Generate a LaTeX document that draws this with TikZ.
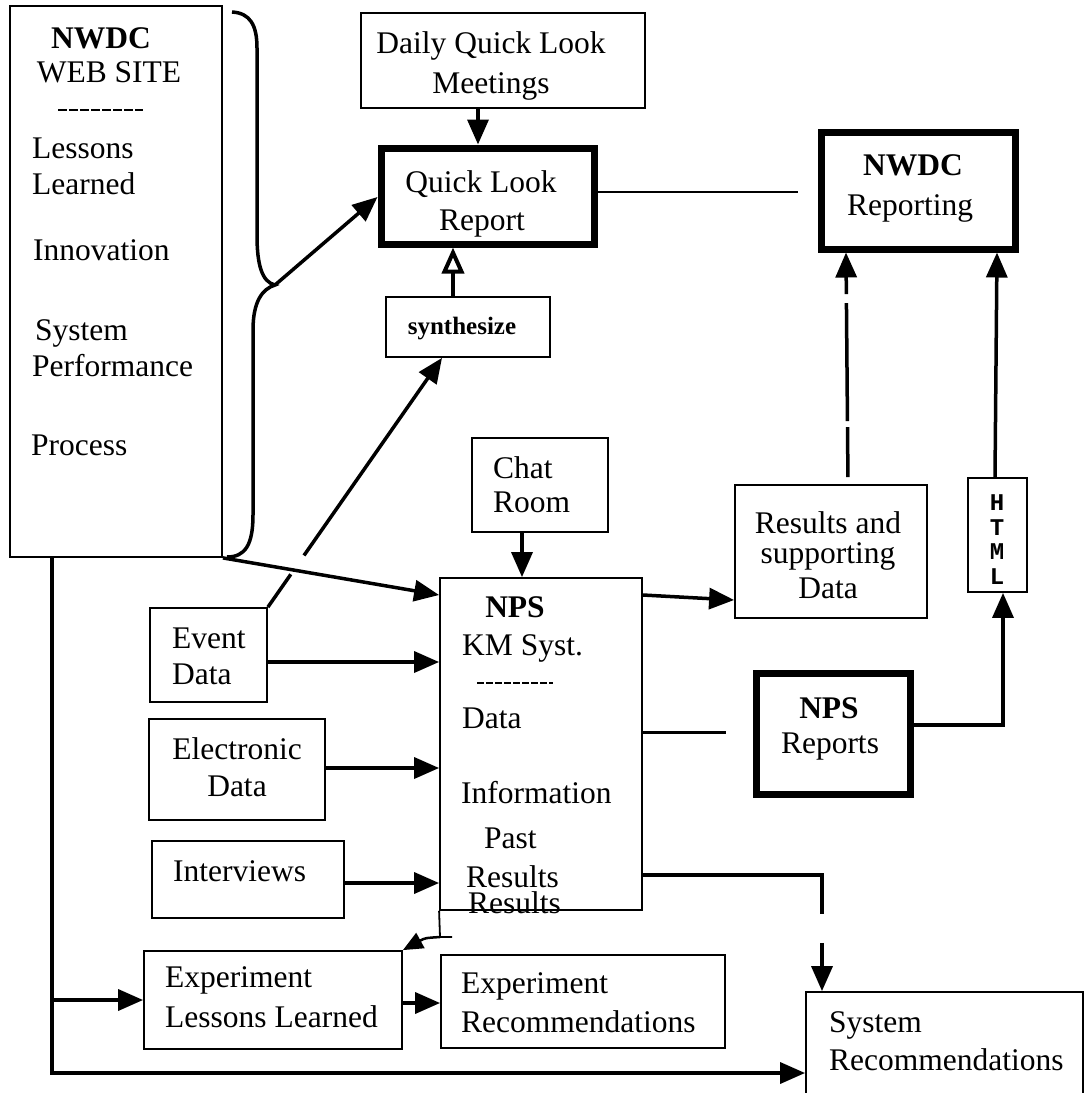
\documentclass[tikz,border=0pt]{standalone}
\usepackage{fontspec}
\setmainfont{Liberation Serif}
\newfontfamily\htmlfont{Liberation Mono}
\usetikzlibrary{arrows.meta,fit,calc}
\begin{document}
\begin{tikzpicture}[x=1pt,y=-1pt,
  box/.style={draw, line width=1.8pt, inner sep=0pt},
  tbox/.style={draw, line width=7pt, inner sep=0pt},
  txt/.style={inner sep=0pt, font=\fontsize{31.5}{37}\selectfont},
  arr/.style={line width=3.5pt, -{Triangle[length=25pt,width=21pt]}},
  ln/.style={line width=3pt},
]
\clip (0,0) rectangle (1087,1093);
\fill[white] (0,0) rectangle (1087,1093);

% boxes
\node[box,  fit={(10,6)(222,557)}]     (web) {};
\node[box,  fit={(361,13)(645,108)}]   (daily) {};
\node[tbox, fit={(381,148)(594,244)}]  (qlr) {};
\node[tbox, fit={(821,132)(1015,249)}] (nwdcr) {};
\node[box,  fit={(386,297)(550,357)}]  (syn) {};
\node[box,  fit={(472,438)(608,532)}]  (chat) {};
\node[box,  fit={(440,578)(642,910)}]  (nps) {};
\node[box,  fit={(735,485)(927,618)}]  (results) {};
\node[box,  fit={(968,478)(1027,592)}] (html) {};
\node[tbox, fit={(756,673)(910,794)}]  (npsr) {};
\node[box,  fit={(150,608)(267,702)}]  (event) {};
\node[box,  fit={(149,719)(325,820)}]  (elec) {};
\node[box,  fit={(152,841)(344,918)}]  (interv) {};
\node[box,  fit={(144,951)(402,1049)}] (ell) {};
\node[box,  fit={(441,955)(725,1048)}] (er) {};
\node[box,  fit={(806,992)(1083,1100)}] (sysrec) {};

% texts: NWDC web site
\node[txt, anchor=base, font=\fontsize{31.5}{37}\selectfont\bfseries] (w1) at (101,48) {NWDC};
\node[txt, anchor=base] (w2) at (109,82) {WEB SITE};
\coordinate (wd1) at (58,110);
\coordinate (wd2) at (143,110);
\draw[line width=2.5pt, dash pattern=on 9pt off 2pt] (wd1) -- (wd2);
\node[txt, anchor=base west] (w3) at (32,158) {Lessons};
\node[txt, anchor=base west] (w4) at (32,194) {Learned};
\node[txt, anchor=base west] (w5) at (33,260) {Innovation};
\node[txt, anchor=base west] (w6) at (35,340) {System};
\node[txt, anchor=base west] (w7) at (32,376) {Performance};
\node[txt, anchor=base west] (w8) at (31,455) {Process};

% daily
\node[txt, anchor=base] (d1) at (491,53) {Daily Quick Look};
\node[txt, anchor=base] (d2) at (491,93) {Meetings};
% quick look report
\node[txt, anchor=base] (q1) at (481,192) {Quick Look};
\node[txt, anchor=base] (q2) at (482,230) {Report};
% NWDC reporting
\node[txt, anchor=base, font=\fontsize{31.5}{37}\selectfont\bfseries] (r1) at (913,175) {NWDC};
\node[txt, anchor=base] (r2) at (910,215) {Reporting};
% synthesize
\node[txt, anchor=base, font=\fontsize{25}{30}\selectfont\bfseries] (s1) at (462,334) {synthesize};
% chat room
\node[txt, anchor=base west] (c1) at (493,478) {Chat};
\node[txt, anchor=base west] (c2) at (493,512) {Room};
% NPS KM
\node[txt, anchor=base, font=\fontsize{31.5}{37}\selectfont\bfseries] (n1) at (515,617) {NPS};
\node[txt, anchor=base west] (n2) at (462,655) {KM Syst.};
\coordinate (nd1) at (477,683);
\coordinate (nd2) at (553,683);
\draw[line width=2pt, dash pattern=on 7pt off 2pt] (nd1) -- (nd2);
\node[txt, anchor=base west] (n3) at (462,728) {Data};
\node[txt, anchor=base west] (n4) at (461,803) {Information};
\node[txt, anchor=base west] (n5) at (484,848) {Past};
\node[txt, anchor=base west] (n6) at (466,887) {Results};
\node[txt, anchor=base west] (n7) at (468,913) {Results};
% results and supporting data
\node[txt, anchor=base] (rs1) at (828,533) {Results and};
\node[txt, anchor=base] (rs2) at (828,563) {supporting};
\node[txt, anchor=base] (rs3) at (828,598) {Data};
% HTML
\node[inner sep=0pt, anchor=base, font=\fontsize{24}{25}\htmlfont\bfseries] (h1) at (997,510) {H};
\node[inner sep=0pt, anchor=base, font=\fontsize{24}{25}\htmlfont\bfseries] (h2) at (997,535) {T};
\node[inner sep=0pt, anchor=base, font=\fontsize{24}{25}\htmlfont\bfseries] (h3) at (997,559) {M};
\node[inner sep=0pt, anchor=base, font=\fontsize{24}{25}\htmlfont\bfseries] (h4) at (997,584) {L};
% NPS reports
\node[txt, anchor=base, font=\fontsize{31.5}{37}\selectfont\bfseries] (p1) at (829,718) {NPS};
\node[txt, anchor=base] (p2) at (830,753) {Reports};
% inputs
\node[txt, anchor=base west] (e1) at (172,648) {Event};
\node[txt, anchor=base west] (e2) at (172,684) {Data};
\node[txt, anchor=base] (el1) at (237,759) {Electronic};
\node[txt, anchor=base] (el2) at (237,796) {Data};
\node[txt, anchor=base west] (i1) at (173,881) {Interviews};
% experiment
\node[txt, anchor=base west] (x1) at (165,987) {Experiment};
\node[txt, anchor=base west] (x2) at (165,1027) {Lessons Learned};
\node[txt, anchor=base west] (y1) at (461,993) {Experiment};
\node[txt, anchor=base west] (y2) at (461,1032) {Recommendations};
\node[txt, anchor=base west] (z1) at (829,1032) {System};
\node[txt, anchor=base west] (z2) at (829,1070) {Recommendations};

% brace
\coordinate (bracetip) at (275,285);
\draw[line width=3.5pt] (232,12) .. controls (250,13) and (257,25) .. (257,48)
  -- (257,235) .. controls (257,265) and (262,282) .. (bracetip)
  .. controls (262,289) and (253,302) .. (253,330)
  -- (253,515) .. controls (253,545) and (245,557) .. (227,557);

% connectors
\draw[arr] (bracetip) -- (qlr.west |- 0,197);
\draw[arr] (478,0 |- daily.south) -- (478,0 |- qlr.north);
\coordinate (qlrend) at (798,192);
\draw[line width=2.5pt] (qlr.east |- qlrend) -- (qlrend);
\draw[line width=3.5pt, -{Triangle[open,length=26pt,width=22pt,line width=4pt]}] (453,0 |- syn.north) -- (453,0 |- qlr.south);
\draw[arr, dash pattern=on 40pt off 23pt on 400pt] (event.north east) -- (442,0 |- syn.south);
\draw[arr] (web.south east) -- (nps.west |- 0,595);
\draw[arr] (522,0 |- chat.south) -- (522,0 |- nps.north);
\draw[arr] (event.east |- 0,662) -- (nps.west |- 0,662);
\draw[arr] (elec.east |- 0,768) -- (nps.west |- 0,768);
\draw[arr] (interv.east |- 0,883) -- (nps.west |- 0,883);
\draw[arr] (nps.east |- 0,595) -- (results.west |- 0,600);
\draw[arr, dash pattern=on 0pt off 7pt on 50pt off 6pt on 118pt off 9pt on 300pt] (848,0 |- results.north) -- (846,0 |- nwdcr.south);
\draw[arr] (995,0 |- html.north) -- (997,0 |- nwdcr.south);
\draw[arr] (npsr.east |- 0,725) -| (1003,0 |- html.south);
\coordinate (npsln) at (726,732);
\draw[ln] (nps.east |- npsln) -- (npsln);
\draw[arr, dash pattern=on 218pt off 29pt on 300pt] (nps.east |- 0,875) -| (822,0 |- sysrec.north);
\coordinate (npsfoot) at (440,937);
\draw[line width=1.8pt] (nps.south west) -- (npsfoot) -- ++(12,0);
\draw[line width=2.5pt, -{Triangle[length=20pt,width=17pt]}] (npsfoot) .. controls (425,938) .. (ell.north east);
\coordinate (lv) at (52,1073);
\coordinate (lvb) at (52,1000);
\draw[arr] (52,0 |- web.south) -- (lv) -- (sysrec.west |- lv);
\draw[arr] (lvb) -- (ell.west |- lvb);
\draw[arr] (ell.east |- 0,1003) -- (er.west |- 0,1003);
\end{tikzpicture}
\end{document}
